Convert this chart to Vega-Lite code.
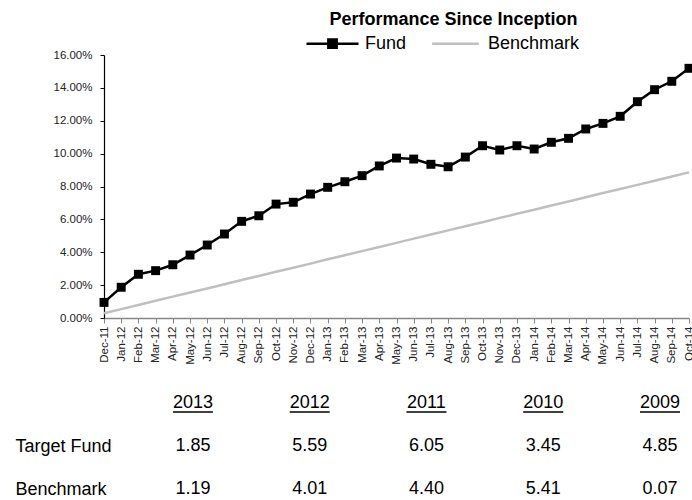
{
  "$schema": "https://vega.github.io/schema/vega-lite/v6.json",
  "autosize": {"type": "pad"},
  "padding": {"left": 15, "top": 11, "right": 0, "bottom": 0},
  "background": "white",
  "bounds": "flush",
  "spacing": 85,
  "title": {"text": "Performance Since Inception", "font": "Liberation Sans", "fontSize": 18, "fontWeight": "bold", "color": "#000000", "anchor": "middle", "frame": "group", "dx": 57, "dy": 17, "offset": 4},
  "config": {"view": {"stroke": null}, "font": "Liberation Sans", "axis": {"grid": false}},
  "datasets": {
    "perf": [
      {"month": "Dec-11", "series": "Fund", "value": 0.95},
      {"month": "Jan-12", "series": "Fund", "value": 1.87},
      {"month": "Feb-12", "series": "Fund", "value": 2.66},
      {"month": "Mar-12", "series": "Fund", "value": 2.88},
      {"month": "Apr-12", "series": "Fund", "value": 3.24},
      {"month": "May-12", "series": "Fund", "value": 3.83},
      {"month": "Jun-12", "series": "Fund", "value": 4.44},
      {"month": "Jul-12", "series": "Fund", "value": 5.11},
      {"month": "Aug-12", "series": "Fund", "value": 5.88},
      {"month": "Sep-12", "series": "Fund", "value": 6.22},
      {"month": "Oct-12", "series": "Fund", "value": 6.93},
      {"month": "Nov-12", "series": "Fund", "value": 7.04},
      {"month": "Dec-12", "series": "Fund", "value": 7.54},
      {"month": "Jan-13", "series": "Fund", "value": 7.95},
      {"month": "Feb-13", "series": "Fund", "value": 8.29},
      {"month": "Mar-13", "series": "Fund", "value": 8.66},
      {"month": "Apr-13", "series": "Fund", "value": 9.25},
      {"month": "May-13", "series": "Fund", "value": 9.73},
      {"month": "Jun-13", "series": "Fund", "value": 9.67},
      {"month": "Jul-13", "series": "Fund", "value": 9.35},
      {"month": "Aug-13", "series": "Fund", "value": 9.2},
      {"month": "Sep-13", "series": "Fund", "value": 9.79},
      {"month": "Oct-13", "series": "Fund", "value": 10.48},
      {"month": "Nov-13", "series": "Fund", "value": 10.22},
      {"month": "Dec-13", "series": "Fund", "value": 10.48},
      {"month": "Jan-14", "series": "Fund", "value": 10.28},
      {"month": "Feb-14", "series": "Fund", "value": 10.69},
      {"month": "Mar-14", "series": "Fund", "value": 10.93},
      {"month": "Apr-14", "series": "Fund", "value": 11.5},
      {"month": "May-14", "series": "Fund", "value": 11.84},
      {"month": "Jun-14", "series": "Fund", "value": 12.27},
      {"month": "Jul-14", "series": "Fund", "value": 13.16},
      {"month": "Aug-14", "series": "Fund", "value": 13.89},
      {"month": "Sep-14", "series": "Fund", "value": 14.4},
      {"month": "Oct-14", "series": "Fund", "value": 15.19},
      {"month": "Dec-11", "series": "Benchmark", "value": 0.29},
      {"month": "Jan-12", "series": "Benchmark", "value": 0.54},
      {"month": "Feb-12", "series": "Benchmark", "value": 0.79},
      {"month": "Mar-12", "series": "Benchmark", "value": 1.05},
      {"month": "Apr-12", "series": "Benchmark", "value": 1.3},
      {"month": "May-12", "series": "Benchmark", "value": 1.55},
      {"month": "Jun-12", "series": "Benchmark", "value": 1.8},
      {"month": "Jul-12", "series": "Benchmark", "value": 2.05},
      {"month": "Aug-12", "series": "Benchmark", "value": 2.31},
      {"month": "Sep-12", "series": "Benchmark", "value": 2.56},
      {"month": "Oct-12", "series": "Benchmark", "value": 2.81},
      {"month": "Nov-12", "series": "Benchmark", "value": 3.06},
      {"month": "Dec-12", "series": "Benchmark", "value": 3.31},
      {"month": "Jan-13", "series": "Benchmark", "value": 3.57},
      {"month": "Feb-13", "series": "Benchmark", "value": 3.82},
      {"month": "Mar-13", "series": "Benchmark", "value": 4.07},
      {"month": "Apr-13", "series": "Benchmark", "value": 4.32},
      {"month": "May-13", "series": "Benchmark", "value": 4.57},
      {"month": "Jun-13", "series": "Benchmark", "value": 4.83},
      {"month": "Jul-13", "series": "Benchmark", "value": 5.08},
      {"month": "Aug-13", "series": "Benchmark", "value": 5.33},
      {"month": "Sep-13", "series": "Benchmark", "value": 5.58},
      {"month": "Oct-13", "series": "Benchmark", "value": 5.83},
      {"month": "Nov-13", "series": "Benchmark", "value": 6.09},
      {"month": "Dec-13", "series": "Benchmark", "value": 6.34},
      {"month": "Jan-14", "series": "Benchmark", "value": 6.59},
      {"month": "Feb-14", "series": "Benchmark", "value": 6.84},
      {"month": "Mar-14", "series": "Benchmark", "value": 7.09},
      {"month": "Apr-14", "series": "Benchmark", "value": 7.35},
      {"month": "May-14", "series": "Benchmark", "value": 7.6},
      {"month": "Jun-14", "series": "Benchmark", "value": 7.85},
      {"month": "Jul-14", "series": "Benchmark", "value": 8.1},
      {"month": "Aug-14", "series": "Benchmark", "value": 8.35},
      {"month": "Sep-14", "series": "Benchmark", "value": 8.61},
      {"month": "Oct-14", "series": "Benchmark", "value": 8.86}
    ],
    "table": [
      {"row": "header", "col": "2013", "text": "2013"},
      {"row": "header", "col": "2012", "text": "2012"},
      {"row": "header", "col": "2011", "text": "2011"},
      {"row": "header", "col": "2010", "text": "2010"},
      {"row": "header", "col": "2009", "text": "2009"},
      {"row": "Target Fund", "col": "2013", "text": "1.85"},
      {"row": "Target Fund", "col": "2012", "text": "5.59"},
      {"row": "Target Fund", "col": "2011", "text": "6.05"},
      {"row": "Target Fund", "col": "2010", "text": "3.45"},
      {"row": "Target Fund", "col": "2009", "text": "4.85"},
      {"row": "Benchmark", "col": "2013", "text": "1.19"},
      {"row": "Benchmark", "col": "2012", "text": "4.01"},
      {"row": "Benchmark", "col": "2011", "text": "4.40"},
      {"row": "Benchmark", "col": "2010", "text": "5.41"},
      {"row": "Benchmark", "col": "2009", "text": "0.07"}
    ]
  },
  "vconcat": [
    {
      "width": 585,
      "height": 263,
      "data": {"name": "perf"},
      "encoding": {
        "x": {
          "field": "month", "type": "ordinal", "sort": null,
          "scale": {"type": "point", "padding": 0},
          "axis": {"title": null, "labelAngle": -90, "labelFontSize": 11.5, "labelColor": "#222222", "domainColor": "#868686", "tickColor": "#868686", "tickSize": 5, "labelPadding": 3, "domainWidth": 1.5, "labelOverlap": false}
        },
        "y": {
          "field": "value", "type": "quantitative",
          "scale": {"domain": [0, 16], "nice": false},
          "axis": {"title": null, "values": [0, 2, 4, 6, 8, 10, 12, 14, 16], "tickCount": 9, "labelExpr": "format(datum.value, '.2f') + '%'", "labelOverlap": false, "labelFontSize": 11.5, "labelColor": "#222222", "domainColor": "#000000", "tickColor": "#000000", "tickSize": 4, "labelPadding": 8, "domainWidth": 1.2}
        }
      },
      "layer": [
        {
          "mark": {"type": "line", "strokeWidth": 2.5},
          "encoding": {
            "color": {
              "field": "series", "type": "nominal",
              "scale": {"domain": ["Fund", "Benchmark"], "range": ["#000000", "#BFBFBF"]},
              "legend": {
                "orient": "none", "legendX": 201, "legendY": -39, "direction": "horizontal", "title": null,
                "labelFontSize": 18, "labelColor": "#000000", "symbolSize": 2704, "symbolStrokeWidth": 2.5,
                "columnPadding": 20, "labelOffset": 5, "padding": 0,
                "encode": {"symbols": {"update": {
                  "shape": {"signal": "datum.value === 'Fund' ? 'M-1,0H1M-0.16,-0.16H0.16V0.16H-0.16Z' : 'M-0.9,0H0.9'"},
                  "fill": {"signal": "datum.value === 'Fund' ? '#000000' : 'transparent'"}
                }}}
              }
            }
          }
        },
        {
          "transform": [{"filter": "datum.series === 'Fund'"}],
          "mark": {"type": "point", "shape": "square", "filled": true, "size": 80, "color": "#000000", "opacity": 1},
          "encoding": {}
        }
      ]
    },
    {
      "width": 585,
      "height": 86,
      "data": {"name": "table"},
      "encoding": {
        "x": {"field": "col", "type": "ordinal", "sort": null, "scale": {"type": "point", "domain": ["2013", "2012", "2011", "2010", "2009"], "padding": 0.505, "align": 0.754}, "axis": null},
        "y": {"field": "row", "type": "ordinal", "scale": {"type": "point", "domain": ["header", "Target Fund", "Benchmark"], "padding": 0},
          "axis": {"title": null, "domain": false, "ticks": false, "tickSize": 0, "labelAlign": "left", "labelPadding": 89, "labelFontSize": 18, "labelColor": "#000000", "labelExpr": "datum.value === 'header' ? '' : datum.value"}}
      },
      "layer": [
        {
          "mark": {"type": "text", "fontSize": 18, "color": "#000000"},
          "encoding": {"text": {"field": "text"}}
        },
        {
          "mark": {"type": "rule", "strokeWidth": 1.5, "color": "#000000", "xOffset": -20, "x2Offset": 20, "yOffset": 9},
          "encoding": {
            "x2": {"field": "col"},
            "opacity": {"condition": {"test": "datum.row === 'header'", "value": 1}, "value": 0}
          }
        }
      ]
    }
  ]
}
